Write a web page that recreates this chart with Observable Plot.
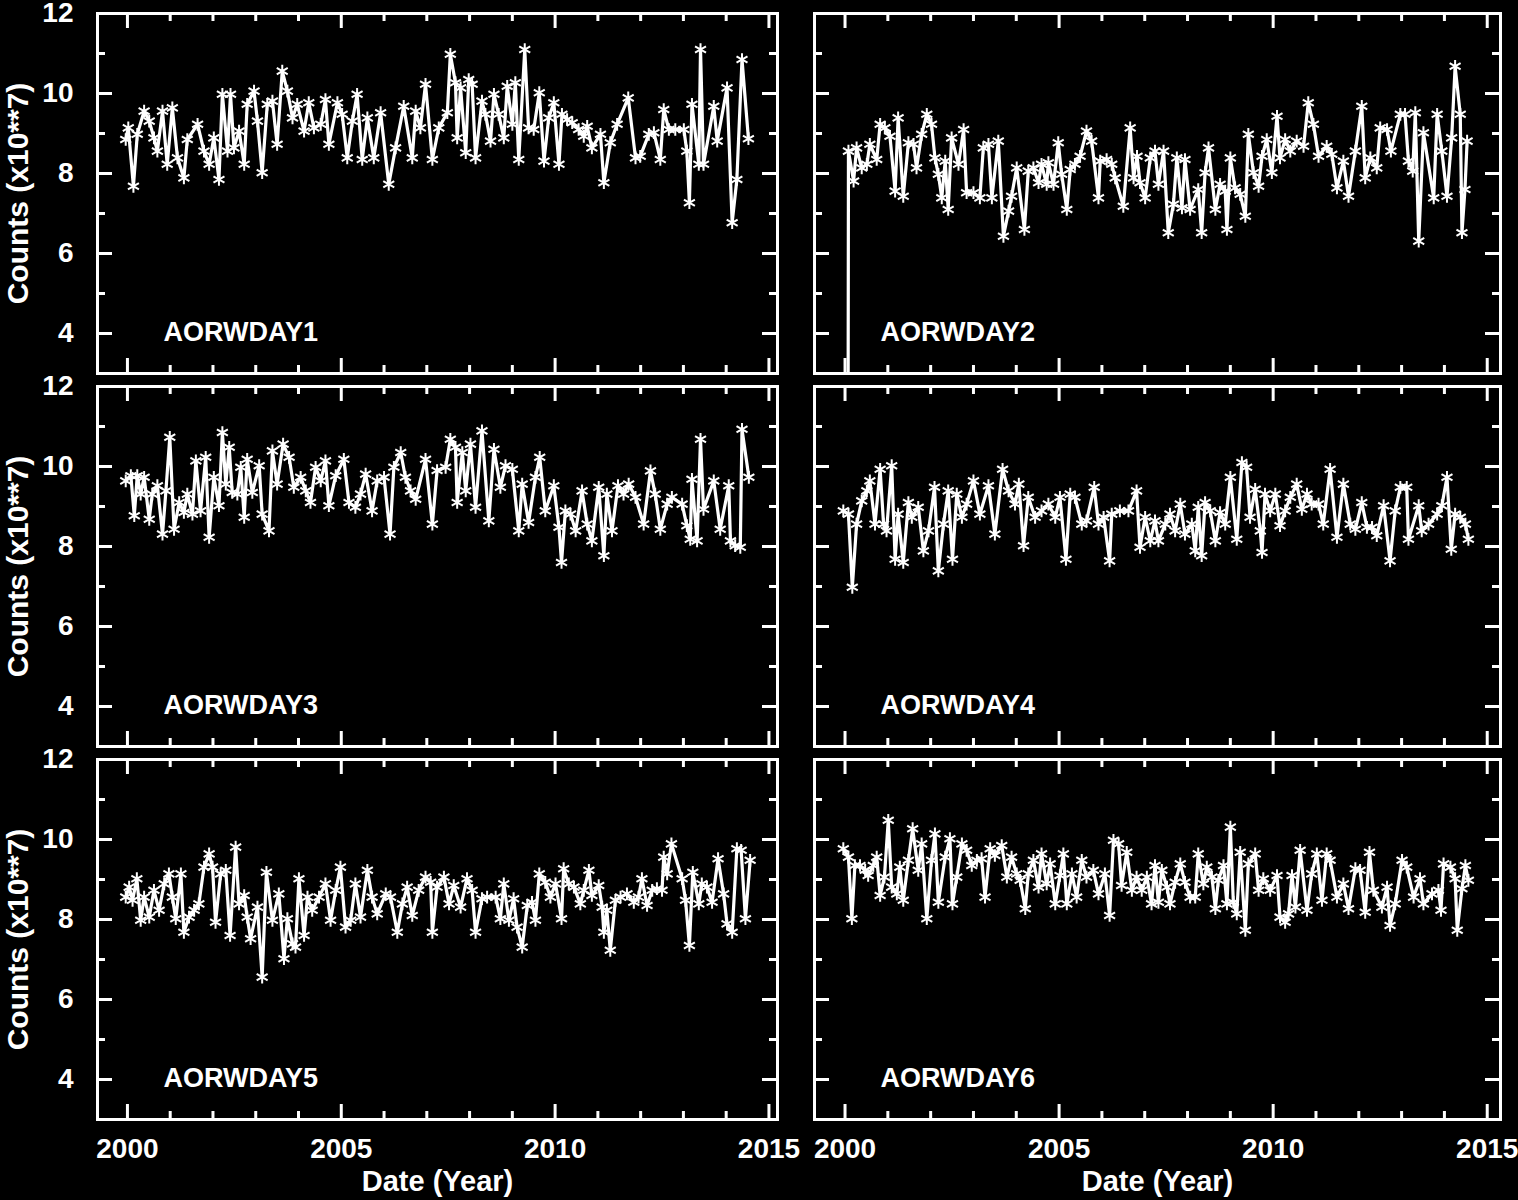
<!DOCTYPE html>
<html><head><meta charset="utf-8">
<script src="https://cdn.jsdelivr.net/npm/d3@7"></script>
<script src="https://cdn.jsdelivr.net/npm/@observablehq/plot@0.6"></script>
<style>
html,body{margin:0;padding:0;background:#000;}
#chart{position:relative;width:1518px;height:1200px;background:#000;overflow:hidden;}
#chart svg{position:absolute;overflow:visible;}
</style></head><body><div id="chart"></div>
<script>
// ---- data: [date (year), counts (x10**7)] ----
const AORWDAY1 = [[1999.96,8.85],[2000.02,9.14],[2000.14,7.68],[2000.23,8.98],[2000.39,9.56],[2000.51,9.31],[2000.62,8.89],[2000.70,8.56],[2000.82,9.56],[2000.93,8.23],[2001.05,9.64],[2001.17,8.39],[2001.32,7.89],[2001.40,8.85],[2001.64,9.23],[2001.79,8.56],[2001.91,8.23],[2002.02,8.89],[2002.14,7.85],[2002.22,9.98],[2002.34,8.56],[2002.41,9.98],[2002.49,8.64],[2002.61,9.06],[2002.73,8.23],[2002.80,9.73],[2002.96,10.06],[2003.04,9.31],[2003.15,8.02],[2003.27,9.73],[2003.39,9.81],[2003.50,8.73],[2003.62,10.56],[2003.74,10.06],[2003.86,9.39],[2003.97,9.73],[2004.13,9.06],[2004.24,9.77],[2004.36,9.14],[2004.52,9.23],[2004.63,9.85],[2004.71,8.73],[2004.91,9.77],[2005.02,9.48],[2005.14,8.39],[2005.26,9.31],[2005.37,9.98],[2005.49,8.35],[2005.61,9.39],[2005.76,8.39],[2005.92,9.52],[2006.11,7.73],[2006.27,8.64],[2006.46,9.68],[2006.66,8.39],[2006.74,9.56],[2006.85,9.14],[2006.97,10.23],[2007.13,8.35],[2007.28,9.14],[2007.48,9.52],[2007.55,10.98],[2007.67,10.27],[2007.71,8.89],[2007.79,10.14],[2007.91,8.52],[2007.98,10.35],[2008.06,10.23],[2008.14,8.39],[2008.29,9.81],[2008.37,9.48],[2008.49,8.81],[2008.57,9.98],[2008.68,9.48],[2008.80,8.89],[2008.88,10.18],[2009.00,9.23],[2009.07,10.27],[2009.15,8.35],[2009.29,11.1],[2009.38,9.14],[2009.50,9.1],[2009.63,10.02],[2009.74,8.31],[2009.85,9.39],[2009.97,9.77],[2010.09,8.23],[2010.16,9.48],[2010.28,9.35],[2010.40,9.27],[2010.55,9.1],[2010.67,8.93],[2010.75,9.18],[2010.86,8.64],[2011.06,8.98],[2011.14,7.77],[2011.29,8.77],[2011.45,9.23],[2011.71,9.89],[2011.88,8.39],[2011.99,8.43],[2012.19,8.98],[2012.31,9.02],[2012.46,8.35],[2012.54,9.6],[2012.66,9.1],[2012.81,9.1],[2013.01,9.1],[2013.08,8.56],[2013.14,7.27],[2013.20,9.73],[2013.36,8.23],[2013.40,11.1],[2013.47,8.23],[2013.71,9.68],[2013.79,8.81],[2014.02,10.14],[2014.14,6.77],[2014.25,7.85],[2014.37,10.85],[2014.52,8.87]];

const AORWDAY2 = [[2000.07,0.5],[2000.08,8.56],[2000.2,7.81],[2000.27,8.64],[2000.39,8.14],[2000.51,8.23],[2000.58,8.73],[2000.74,8.35],[2000.82,9.23],[2000.93,9.14],[2001.05,8.93],[2001.17,7.56],[2001.24,9.39],[2001.36,7.43],[2001.48,8.77],[2001.6,8.73],[2001.67,8.14],[2001.79,8.98],[2001.91,9.48],[2002.02,9.23],[2002.1,8.39],[2002.18,7.98],[2002.26,7.39],[2002.34,8.31],[2002.41,7.1],[2002.49,8.89],[2002.65,8.23],[2002.77,9.1],[2002.84,7.52],[2003.0,7.52],[2003.15,7.39],[2003.23,8.64],[2003.35,8.73],[2003.43,7.39],[2003.58,8.81],[2003.7,6.43],[2003.82,7.06],[2003.89,7.43],[2004.01,8.14],[2004.19,6.6],[2004.28,8.06],[2004.4,8.14],[2004.52,7.77],[2004.59,8.23],[2004.71,7.73],[2004.75,8.27],[2004.87,7.73],[2004.98,8.77],[2005.06,7.98],[2005.18,7.1],[2005.26,8.1],[2005.37,8.23],[2005.49,8.43],[2005.64,9.06],[2005.76,8.81],[2005.92,7.39],[2005.96,8.31],[2006.11,8.35],[2006.23,8.23],[2006.31,7.89],[2006.5,7.18],[2006.66,9.14],[2006.74,7.89],[2006.82,8.43],[2006.89,7.77],[2007.01,7.39],[2007.13,8.39],[2007.24,8.56],[2007.32,7.73],[2007.44,8.56],[2007.55,6.52],[2007.67,7.23],[2007.75,8.39],[2007.87,7.14],[2007.94,8.35],[2008.06,7.1],[2008.25,7.6],[2008.33,6.52],[2008.41,8.02],[2008.49,8.64],[2008.65,7.1],[2008.76,7.73],[2008.88,7.56],[2008.92,6.6],[2009.0,8.39],[2009.11,7.64],[2009.23,7.48],[2009.35,6.93],[2009.42,8.98],[2009.54,8.02],[2009.66,7.68],[2009.74,8.43],[2009.85,8.85],[2009.97,8.02],[2010.09,9.43],[2010.16,8.39],[2010.28,8.85],[2010.4,8.56],[2010.55,8.81],[2010.71,8.68],[2010.82,9.77],[2010.94,9.23],[2011.06,8.43],[2011.25,8.68],[2011.37,8.48],[2011.49,7.64],[2011.64,8.31],[2011.76,7.43],[2011.92,8.56],[2012.07,9.68],[2012.15,7.89],[2012.27,8.39],[2012.42,8.14],[2012.5,9.14],[2012.66,9.1],[2012.75,8.56],[2012.97,9.48],[2013.08,9.48],[2013.16,8.31],[2013.26,8.06],[2013.32,9.52],[2013.4,6.31],[2013.51,9.02],[2013.75,7.39],[2013.83,9.48],[2013.94,8.56],[2014.06,7.43],[2014.17,8.89],[2014.25,10.68],[2014.37,9.48],[2014.41,6.52],[2014.48,7.6],[2014.53,8.81]];

const AORWDAY3 = [[1999.96,9.64],[2000.08,9.77],[2000.16,8.77],[2000.23,9.77],[2000.31,9.31],[2000.39,9.73],[2000.51,8.68],[2000.58,9.31],[2000.7,9.52],[2000.82,8.31],[2000.9,9.39],[2000.99,10.73],[2001.09,8.43],[2001.21,9.1],[2001.32,8.85],[2001.4,9.31],[2001.52,8.81],[2001.6,10.14],[2001.71,8.89],[2001.83,10.23],[2001.91,8.23],[2002.02,9.73],[2002.14,9.02],[2002.22,10.85],[2002.3,9.56],[2002.38,10.48],[2002.45,9.35],[2002.57,9.31],[2002.65,9.98],[2002.73,8.73],[2002.8,10.18],[2002.92,9.35],[2003.08,10.02],[2003.15,8.81],[2003.31,8.39],[2003.39,10.39],[2003.5,9.56],[2003.64,10.56],[2003.78,10.23],[2003.89,9.48],[2004.05,9.73],[2004.17,9.39],[2004.28,9.1],[2004.4,9.98],[2004.52,9.64],[2004.63,10.14],[2004.71,9.02],[2004.87,9.77],[2005.06,10.18],[2005.18,9.1],[2005.33,8.98],[2005.45,9.31],[2005.57,9.81],[2005.72,8.89],[2005.84,9.64],[2006.0,9.73],[2006.14,8.31],[2006.23,9.98],[2006.39,10.35],[2006.5,9.73],[2006.62,9.39],[2006.74,9.18],[2006.97,10.18],[2007.13,8.56],[2007.24,9.9],[2007.44,9.98],[2007.55,10.68],[2007.67,10.48],[2007.71,9.1],[2007.83,10.35],[2007.91,9.39],[2008.02,10.56],[2008.14,8.98],[2008.29,10.89],[2008.45,8.64],[2008.57,10.43],[2008.72,9.48],[2008.84,10.02],[2009.0,9.93],[2009.15,8.39],[2009.23,9.56],[2009.38,8.6],[2009.54,9.73],[2009.64,10.23],[2009.77,8.89],[2009.97,9.52],[2010.09,8.48],[2010.15,7.6],[2010.24,8.89],[2010.36,8.81],[2010.48,8.39],[2010.63,9.39],[2010.75,8.56],[2010.86,8.14],[2011.02,9.48],[2011.14,7.77],[2011.21,9.31],[2011.33,8.39],[2011.47,9.52],[2011.6,9.31],[2011.72,9.56],[2011.88,9.23],[2012.07,8.56],[2012.23,9.89],[2012.34,9.31],[2012.46,8.43],[2012.62,9.06],[2012.73,9.23],[2012.97,9.06],[2013.08,8.52],[2013.16,8.18],[2013.2,9.68],[2013.32,8.14],[2013.4,10.68],[2013.47,8.93],[2013.71,9.64],[2013.86,8.43],[2014.06,9.52],[2014.1,8.14],[2014.21,8.02],[2014.33,7.98],[2014.37,10.93],[2014.53,9.73]];

const AORWDAY4 = [[1999.96,8.89],[2000.08,8.81],[2000.17,6.98],[2000.27,8.56],[2000.39,9.14],[2000.51,9.39],[2000.58,9.64],[2000.7,8.56],[2000.82,9.93],[2000.9,8.56],[2000.97,8.39],[2001.09,10.02],[2001.17,7.68],[2001.24,8.81],[2001.36,7.6],[2001.48,9.1],[2001.56,8.73],[2001.71,8.98],[2001.83,7.89],[2001.95,8.39],[2002.09,9.48],[2002.18,7.39],[2002.3,8.56],[2002.41,9.39],[2002.51,7.68],[2002.61,9.31],[2002.73,8.73],[2002.84,9.06],[2003.0,9.64],[2003.15,8.81],[2003.35,9.52],[2003.5,8.31],[2003.68,9.93],[2003.82,9.39],[2003.97,9.06],[2004.06,9.56],[2004.17,8.02],[2004.28,9.23],[2004.44,8.73],[2004.59,8.89],[2004.75,9.06],[2004.91,8.73],[2005.02,9.23],[2005.16,7.68],[2005.26,9.31],[2005.37,9.23],[2005.53,8.56],[2005.64,8.64],[2005.82,9.48],[2005.92,8.56],[2006.04,8.73],[2006.18,7.64],[2006.23,8.81],[2006.42,8.89],[2006.62,8.89],[2006.81,9.39],[2006.89,7.98],[2007.01,8.73],[2007.13,8.14],[2007.24,8.64],[2007.32,8.14],[2007.48,8.56],[2007.59,8.81],[2007.71,8.39],[2007.83,9.06],[2007.94,8.31],[2008.1,8.56],[2008.18,7.89],[2008.25,8.98],[2008.33,7.77],[2008.41,9.1],[2008.53,8.89],[2008.65,8.14],[2008.76,8.85],[2008.88,8.56],[2009.0,9.73],[2009.15,8.18],[2009.27,10.1],[2009.38,9.98],[2009.46,8.73],[2009.58,9.43],[2009.7,8.39],[2009.74,7.85],[2009.81,9.31],[2009.93,8.89],[2010.05,9.31],[2010.16,8.52],[2010.28,8.89],[2010.4,9.23],[2010.55,9.56],[2010.67,8.93],[2010.79,9.31],[2010.9,9.06],[2011.06,9.06],[2011.17,8.56],[2011.33,9.93],[2011.49,8.23],[2011.64,9.56],[2011.8,8.56],[2011.92,8.43],[2012.07,9.1],[2012.19,8.48],[2012.31,8.48],[2012.42,8.27],[2012.58,9.02],[2012.73,7.64],[2012.85,8.89],[2012.97,9.48],[2013.12,9.48],[2013.16,8.18],[2013.4,9.02],[2013.47,8.39],[2013.63,8.56],[2013.83,8.81],[2013.94,9.02],[2014.06,9.73],[2014.16,7.93],[2014.25,8.81],[2014.37,8.73],[2014.49,8.56],[2014.56,8.18]];

const AORWDAY5 = [[1999.96,8.56],[2000.04,8.81],[2000.12,8.48],[2000.22,9.02],[2000.31,7.98],[2000.39,8.56],[2000.51,8.06],[2000.62,8.73],[2000.74,8.23],[2000.86,8.89],[2000.97,9.14],[2001.05,8.56],[2001.13,8.02],[2001.25,9.14],[2001.32,7.68],[2001.44,8.06],[2001.56,8.23],[2001.67,8.39],[2001.79,9.31],[2001.91,9.64],[2001.99,9.31],[2002.06,7.93],[2002.18,9.14],[2002.3,9.23],[2002.4,7.6],[2002.53,9.81],[2002.61,8.39],[2002.73,8.6],[2002.8,8.06],[2002.88,7.52],[2003.04,8.31],[2003.15,6.56],[2003.25,9.18],[2003.39,7.98],[2003.54,8.64],[2003.66,7.02],[2003.74,8.02],[2003.86,7.39],[2003.93,7.31],[2004.01,9.02],[2004.13,7.6],[2004.21,8.56],[2004.32,8.23],[2004.48,8.56],[2004.63,8.89],[2004.75,7.98],[2004.87,8.73],[2004.98,9.31],[2005.1,7.81],[2005.22,7.98],[2005.33,8.89],[2005.45,8.06],[2005.61,9.23],[2005.72,8.56],[2005.84,8.14],[2006.04,8.64],[2006.15,8.56],[2006.31,7.68],[2006.43,8.39],[2006.54,8.81],[2006.66,8.1],[2006.81,8.73],[2006.97,9.06],[2007.09,8.93],[2007.13,7.68],[2007.24,8.81],[2007.4,9.06],[2007.52,8.39],[2007.63,8.85],[2007.79,8.31],[2007.94,9.02],[2008.06,8.73],[2008.14,7.68],[2008.29,8.52],[2008.41,8.56],[2008.61,8.56],[2008.72,8.02],[2008.8,8.89],[2008.92,7.98],[2009.03,8.52],[2009.11,7.81],[2009.23,7.31],[2009.35,8.35],[2009.46,8.43],[2009.54,7.98],[2009.63,9.14],[2009.77,8.93],[2009.89,8.56],[2010.01,8.89],[2010.15,8.02],[2010.2,9.27],[2010.32,8.89],[2010.44,8.81],[2010.59,8.39],[2010.67,8.73],[2010.79,9.23],[2010.86,8.6],[2011.02,8.85],[2011.1,8.31],[2011.14,7.68],[2011.21,8.23],[2011.29,7.23],[2011.41,8.48],[2011.53,8.56],[2011.68,8.64],[2011.84,8.43],[2011.95,8.56],[2012.03,9.02],[2012.15,8.35],[2012.27,8.73],[2012.38,8.77],[2012.5,8.73],[2012.54,9.56],[2012.62,9.14],[2012.72,9.89],[2012.97,9.02],[2013.05,8.48],[2013.14,7.35],[2013.22,9.18],[2013.36,8.39],[2013.43,8.89],[2013.55,8.81],[2013.67,8.43],[2013.81,9.52],[2013.94,8.64],[2014.02,7.89],[2014.14,7.68],[2014.25,9.77],[2014.35,9.73],[2014.45,8.02],[2014.56,9.48]];

const AORWDAY6 = [[1999.96,9.77],[2000.08,9.56],[2000.16,8.02],[2000.23,9.35],[2000.35,9.35],[2000.47,9.23],[2000.54,9.1],[2000.66,9.35],[2000.74,9.56],[2000.82,8.6],[2000.92,9.06],[2001.01,10.48],[2001.09,8.81],[2001.21,8.64],[2001.28,9.31],[2001.36,8.48],[2001.48,9.48],[2001.58,10.27],[2001.71,9.23],[2001.79,9.89],[2001.91,8.02],[2002.02,9.48],[2002.1,10.14],[2002.18,8.43],[2002.34,9.56],[2002.45,10.02],[2002.51,8.39],[2002.61,9.06],[2002.73,9.89],[2002.84,9.73],[2002.96,9.35],[2003.08,9.48],[2003.19,9.52],[2003.27,8.56],[2003.39,9.77],[2003.5,9.6],[2003.66,9.85],[2003.78,9.06],[2003.89,9.56],[2004.01,9.14],[2004.09,8.98],[2004.21,8.27],[2004.28,9.14],[2004.4,9.48],[2004.52,8.81],[2004.59,9.64],[2004.71,8.89],[2004.79,9.39],[2004.91,8.39],[2005.02,9.1],[2005.1,9.64],[2005.18,8.39],[2005.3,9.14],[2005.41,8.56],[2005.53,9.48],[2005.64,9.06],[2005.8,9.23],[2005.92,8.64],[2006.07,9.14],[2006.18,8.1],[2006.27,9.98],[2006.39,9.89],[2006.46,8.85],[2006.58,9.68],[2006.7,8.73],[2006.81,9.06],[2006.93,8.73],[2007.05,9.06],[2007.16,8.39],[2007.24,9.35],[2007.32,8.43],[2007.4,9.23],[2007.52,8.81],[2007.59,8.39],[2007.71,8.93],[2007.83,9.39],[2007.94,8.93],[2008.06,8.56],[2008.18,8.56],[2008.25,9.64],[2008.37,8.89],[2008.45,9.31],[2008.57,9.06],[2008.65,8.27],[2008.72,8.98],[2008.84,9.35],[2008.92,8.39],[2009.0,10.31],[2009.07,8.43],[2009.15,8.14],[2009.23,9.68],[2009.35,7.73],[2009.42,9.39],[2009.58,9.64],[2009.66,8.73],[2009.77,9.02],[2009.93,8.73],[2010.09,9.1],[2010.16,8.06],[2010.28,7.93],[2010.36,8.14],[2010.44,9.1],[2010.52,8.31],[2010.63,9.73],[2010.79,8.23],[2010.9,9.14],[2011.02,9.64],[2011.14,8.48],[2011.25,9.64],[2011.33,9.48],[2011.49,8.56],[2011.64,8.89],[2011.76,8.27],[2011.92,9.27],[2012.03,9.23],[2012.15,8.18],[2012.25,9.68],[2012.34,8.73],[2012.54,8.31],[2012.66,8.81],[2012.73,7.85],[2012.85,8.39],[2013.01,9.48],[2013.12,9.31],[2013.28,8.56],[2013.43,9.02],[2013.51,8.39],[2013.71,8.64],[2013.86,8.73],[2013.92,8.23],[2013.98,9.39],[2014.14,9.31],[2014.25,9.02],[2014.3,7.73],[2014.41,8.77],[2014.49,9.35],[2014.56,8.98]];

const panelNames = ["AORWDAY1","AORWDAY2","AORWDAY3","AORWDAY4","AORWDAY5","AORWDAY6"];
const panelSeries = [AORWDAY1, AORWDAY2, AORWDAY3, AORWDAY4, AORWDAY5, AORWDAY6];
const yMajorTicks = [4, 6, 8, 10, 12];
const yMinorTicks = [5, 7, 9, 11];
const xMajorTicks = [2000, 2005, 2010, 2015];
const xMinorTicks = [2001, 2002, 2003, 2004, 2006, 2007, 2008, 2009, 2011, 2012, 2013, 2014];
const yDomain = [3, 12];
const yLabel = "Counts (x10**7)";
const xLabel = "Date (Year)";

// ---- layout ----
const cols = [
  {left: 0,   mL: 97, w: 680, mR: 18, domain: [1999.30, 2015.20]},
  {left: 795, mL: 19, w: 686, mR: 18, domain: [1999.287, 2015.31]}
];
const rows = [
  {top: 0,   mT: 13, h: 360, mB: 6},
  {top: 379, mT: 7,  h: 360, mB: 6},
  {top: 752, mT: 7,  h: 360, mB: 81}
];
const numFont = "'Liberation Sans', Arial, Helvetica, sans-serif";

const chart = document.getElementById("chart");

panelSeries.forEach((series, i) => {
  const ci = i % 2, ri = Math.floor(i / 2);
  const col = cols[ci], row = rows[ri];
  const W = col.w, H = row.h;
  const data = series.map(([x, y]) => ({x, y}));
  const showY = ci === 0, showX = ri === 2;
  const tick = {stroke: "white", strokeWidth: 3};
  const marks = [
    Plot.tickX(xMajorTicks, {x: d => d, ...tick, insetBottom: H - 15}),
    Plot.tickX(xMajorTicks, {x: d => d, ...tick, insetTop: H - 15}),
    Plot.tickX(xMinorTicks, {x: d => d, ...tick, insetBottom: H - 8}),
    Plot.tickX(xMinorTicks, {x: d => d, ...tick, insetTop: H - 8}),
    Plot.tickY(yMajorTicks, {y: d => d, ...tick, insetRight: W - 15}),
    Plot.tickY(yMajorTicks, {y: d => d, ...tick, insetLeft: W - 15}),
    Plot.tickY(yMinorTicks, {y: d => d, ...tick, insetRight: W - 8}),
    Plot.tickY(yMinorTicks, {y: d => d, ...tick, insetLeft: W - 8}),
    Plot.line(data, {x: "x", y: "y", stroke: "white", strokeWidth: 3.2, clip: true}),
    Plot.dot(data, {x: "x", y: "y", symbol: "asterisk", r: 6, stroke: "white", strokeWidth: 2, clip: true}),
    Plot.frame({stroke: "white", strokeWidth: 3}),
    Plot.text([panelNames[i]], {text: d => d, frameAnchor: "bottom-left", dx: 66, dy: -33,
      textAnchor: "start", lineAnchor: "bottom", fill: "white",
      fontFamily: numFont, fontSize: 27, fontWeight: "bold"})
  ];
  if (showY) {
    marks.push(
      Plot.axisY(yMajorTicks, {anchor: "left", tickSize: 0, tickPadding: 24, label: null,
        fill: "white", fontFamily: numFont, fontSize: 28, fontWeight: "bold"}),
      Plot.text([yLabel], {text: d => d, frameAnchor: "left", rotate: -90, dx: -79,
        textAnchor: "middle", lineAnchor: "middle", fill: "white",
        fontFamily: numFont, fontSize: 30, fontWeight: "bold"})
    );
  }
  if (showX) {
    marks.push(
      Plot.axisX(xMajorTicks, {anchor: "bottom", tickSize: 0, tickPadding: 19, label: null,
        tickFormat: d => String(d), fill: "white", fontFamily: numFont, fontSize: 28, fontWeight: "bold"}),
      Plot.text([xLabel], {text: d => d, frameAnchor: "bottom", dy: 51,
        textAnchor: "middle", lineAnchor: "top", fill: "white",
        fontFamily: numFont, fontSize: 29, fontWeight: "bold"})
    );
  }
  const xOpts = {domain: col.domain};
  const yOpts = {domain: yDomain};
  if (!showX) xOpts.axis = null;
  if (!showY) yOpts.axis = null;
  const svg = Plot.plot({
    width: col.mL + W + col.mR,
    height: row.mT + H + row.mB,
    marginLeft: col.mL, marginRight: col.mR,
    marginTop: row.mT, marginBottom: row.mB,
    x: xOpts, y: yOpts,
    style: {background: "transparent", color: "white", fontFamily: numFont, overflow: "visible"},
    marks
  });
  svg.style.left = col.left + "px";
  svg.style.top = row.top + "px";
  chart.appendChild(svg);
});
</script></body></html>
